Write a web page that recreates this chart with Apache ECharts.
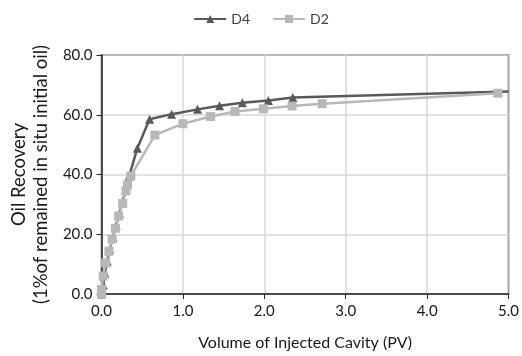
<!DOCTYPE html>
<html>
<head>
<meta charset="utf-8">
<script src="https://cdn.jsdelivr.net/npm/echarts@6/dist/echarts.min.js"></script>
<style>
  html, body { margin: 0; padding: 0; background: #fff; }
  #chart { width: 522px; height: 356px; }
</style>
</head>
<body>
<div id="chart"></div>
<script>
// injected volume (PV) / oil recovery (%) pairs
var d4X = [0, 0.02, 0.04, 0.07, 0.10, 0.14, 0.18, 0.22, 0.26, 0.30, 0.34, 0.44, 0.59, 0.86, 1.18, 1.45, 1.73, 2.05, 2.35, 5.0];
var d4Y = [0, 3.0, 7.0, 11.0, 15.0, 19.0, 23.0, 27.0, 31.0, 35.0, 39.5, 48.8, 58.5, 60.2, 61.8, 63.0, 64.0, 64.8, 65.8, 67.8];

var d2X = [0, 0, 0.02, 0.05, 0.09, 0.13, 0.17, 0.21, 0.26, 0.30, 0.32, 0.36, 0.655, 1.0, 1.34, 1.64, 1.99, 2.34, 2.71, 4.87];
var d2Y = [0, 1.5, 6.0, 10.4, 14.3, 18.4, 22.0, 26.1, 30.3, 34.5, 36.5, 39.5, 53.2, 57.0, 59.4, 61.1, 62.0, 62.9, 63.7, 67.2];

function pairs(xs, ys) {
  return xs.map(function (x, i) {
    // the curve runs on past the frame, so no marker on the edge point
    if (x >= 5) return { value: [x, ys[i]], symbol: 'none' };
    return [x, ys[i]];
  });
}

var chart = echarts.init(document.getElementById('chart'));
var font = 'Lato';

var option = {
  animation: false,
  textStyle: { fontFamily: font },
  legend: {
    top: 7,
    left: 'center',
    itemWidth: 32,
    itemHeight: 10,
    itemGap: 22,
    textStyle: { fontSize: 14, color: '#404040', fontFamily: font },
    data: ['D4', 'D2']
  },
  grid: {
    left: 99, right: 9, top: 55, bottom: 60,
    show: true, borderColor: '#262626', borderWidth: 1.5
  },
  xAxis: {
    type: 'value',
    min: 0, max: 5, interval: 1,
    name: 'Volume of Injected Cavity (PV)',
    nameLocation: 'middle',
    nameGap: 41,
    nameTextStyle: { fontSize: 16, color: '#1a1a1a' },
    axisLine: { show: true, lineStyle: { color: '#262626', width: 1.5 } },
    axisTick: { show: true, inside: false, length: 5, lineStyle: { color: '#262626' } },
    axisLabel: { fontSize: 15, color: '#1a1a1a', margin: 10, formatter: function (v) { return v.toFixed(1); } },
    splitLine: { show: true, lineStyle: { color: '#d9d9d9', width: 1.5 } }
  },
  yAxis: {
    type: 'value',
    min: 0, max: 80, interval: 20,
    name: 'Oil Recovery\n(1%of remained in situ initial oil)',
    nameLocation: 'middle',
    nameGap: 48,
    nameRotate: 90,
    nameTextStyle: { fontSize: 18.5, color: '#1a1a1a', lineHeight: 22 },
    axisLine: { show: true, lineStyle: { color: '#262626', width: 1.5 } },
    axisTick: { show: true, inside: false, length: 5, lineStyle: { color: '#262626' } },
    axisLabel: { fontSize: 15, color: '#1a1a1a', margin: 9, formatter: function (v) { return v.toFixed(1); } },
    splitLine: { show: true, lineStyle: { color: '#d9d9d9', width: 1.5 } }
  },
  series: [{
    name: 'D4',
    type: 'line',
    data: pairs(d4X, d4Y),
    symbol: 'triangle',
    symbolSize: 9,
    color: '#595959',
    lineStyle: { width: 2.5, color: '#595959' },
    itemStyle: { color: '#595959' },
    z: 2
  }, {
    name: 'D2',
    type: 'line',
    data: pairs(d2X, d2Y),
    symbol: 'rect',
    symbolSize: 9,
    color: '#b8b8b8',
    lineStyle: { width: 2.5, color: '#b8b8b8' },
    itemStyle: { color: '#b8b8b8' },
    z: 3
  }]
};

chart.setOption(option);
</script>
</body>
</html>
